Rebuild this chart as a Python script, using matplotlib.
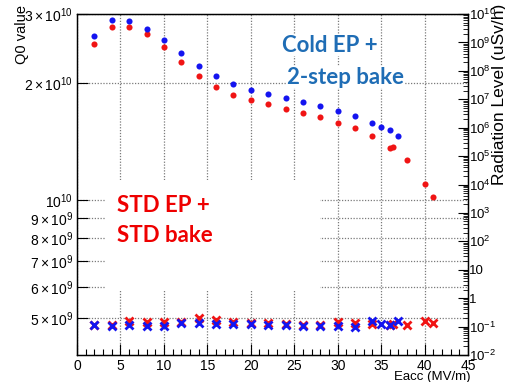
import numpy as np
import matplotlib
matplotlib.use("Agg")
import matplotlib.pyplot as plt
from matplotlib.patches import Rectangle
from matplotlib.ticker import FixedLocator, NullLocator, LogLocator, MultipleLocator, FuncFormatter

plt.rcParams["font.family"] = ["Liberation Sans", "DejaVu Sans"]
plt.rcParams["mathtext.fontset"] = "custom"
plt.rcParams["mathtext.rm"] = "Liberation Sans"
plt.rcParams["mathtext.it"] = "Liberation Sans:italic"
plt.rcParams["mathtext.bf"] = "Liberation Sans:bold"

# ── Datos ────────────────────────────────────────────────────────────────────
# Cold EP + 2-step bake (azul)
eacc_cold = [2, 4, 6, 8, 10, 12, 14, 16, 18, 20, 22, 24, 26, 28, 30, 32, 34, 35, 36, 37]
q0_cold = [2.63e10, 2.90e10, 2.88e10, 2.74e10, 2.57e10, 2.39e10, 2.21e10, 2.08e10, 1.99e10, 1.92e10,
           1.87e10, 1.83e10, 1.79e10, 1.74e10, 1.69e10, 1.64e10, 1.58e10, 1.54e10, 1.51e10, 1.46e10]
rad_cold = [0.114, 0.105, 0.114, 0.105, 0.105, 0.134, 0.134, 0.123, 0.123, 0.123,
            0.114, 0.114, 0.105, 0.105, 0.105, 0.097, 0.158, 0.123, 0.114, 0.158]

# STD EP + STD bake (rojo)
eacc_std = [2, 4, 6, 8, 10, 12, 14, 16, 18, 20, 22, 24, 26, 28, 30, 32, 34, 36, 36.4, 38, 40, 41]
q0_std = [2.51e10, 2.78e10, 2.78e10, 2.67e10, 2.47e10, 2.26e10, 2.08e10, 1.95e10, 1.86e10, 1.81e10,
          1.76e10, 1.71e10, 1.67e10, 1.63e10, 1.58e10, 1.53e10, 1.46e10, 1.36e10, 1.37e10, 1.27e10,
          1.10e10, 1.02e10]
rad_std = [0.11, 0.11, 0.158, 0.145, 0.145, 0.145, 0.201, 0.172, 0.145, 0.134,
           0.134, 0.12, 0.11, 0.11, 0.145, 0.134, 0.123, 0.114, 0.123, 0.114,
           0.158, 0.134]

q0_ticks = [5e9, 6e9, 7e9, 8e9, 9e9, 1e10, 2e10, 3e10]
q0_labels = [r"$5\times10^{9}$", r"$6\times10^{9}$", r"$7\times10^{9}$", r"$8\times10^{9}$",
             r"$9\times10^{9}$", r"$10^{10}$", r"$2\times10^{10}$", r"$3\times10^{10}$"]

AZUL = "#1414f0"
ROJO = "#f01414"
AZUL_TXT = "#1f6db5"
ROJO_TXT = "#ee0000"
GRID_KW = dict(color="#7a7a7a", linestyle=(0, (1, 1.3)), linewidth=0.9)

fig = plt.figure(figsize=(5.06, 3.82), dpi=100)
ax = fig.add_axes([77 / 506, 1 - 355 / 382, (468 - 77) / 506, (355 - 14) / 382])
ax2 = ax.twinx()

# ── Eje izquierdo: Q0 ────────────────────────────────────────────────────────
ax.set_yscale("log")
ax.set_xlim(0, 45)
ax.set_ylim(4.02e9, 3e10)
ax.yaxis.set_major_locator(FixedLocator(q0_ticks))
ax.yaxis.set_minor_locator(NullLocator())
ax.set_yticklabels(q0_labels)
ax.xaxis.set_major_locator(MultipleLocator(5))
ax.xaxis.set_minor_locator(MultipleLocator(1))
ax.set_axisbelow(True)
ax.grid(True, which="major", **GRID_KW)

ax.tick_params(axis="both", which="major", direction="in", length=8, width=0.8,
               labelsize=10, top=False, right=False)
ax.tick_params(axis="x", which="minor", direction="in", length=4, width=0.8, top=False)
ax.tick_params(axis="y", pad=3)
ax.tick_params(axis="x", pad=3)
for s in ax.spines.values():
    s.set_linewidth(0.9)

# caja blanca que tapa la rejilla bajo el texto STD
ax.add_patch(Rectangle((0.072, 0.19), 0.55, 0.323, transform=ax.transAxes,
                       facecolor="white", edgecolor="none", zorder=1))

ax.plot(eacc_std, q0_std, "o", color=ROJO, ms=4.4, mec="none", zorder=3)
ax.plot(eacc_cold, q0_cold, "o", color=AZUL, ms=4.4, mec="none", zorder=3)

# ── Eje derecho: radiación ───────────────────────────────────────────────────
ax2.set_yscale("log")
ax2.set_ylim(1e-2, 1e10)
ax2.yaxis.set_major_locator(LogLocator(base=10, numticks=30))
ax2.yaxis.set_minor_locator(LogLocator(base=10, subs=np.arange(2, 10), numticks=200))


def fmt_rad(v, pos):
    e = int(round(np.log10(v)))
    if e == 0:
        return "1"
    if e == 1:
        return "10"
    return r"$10^{%d}$" % e


ax2.yaxis.set_major_formatter(FuncFormatter(fmt_rad))
ax2.tick_params(axis="y", which="major", direction="in", length=7, width=0.8, labelsize=9.5, pad=0.5)
ax2.tick_params(axis="y", which="minor", direction="in", length=3.5, width=0.6)
for s in ax2.spines.values():
    s.set_linewidth(0.9)

ax2.plot(eacc_std, rad_std, "x", color=ROJO, ms=5.5, mew=2.0, zorder=3)
ax2.plot(eacc_cold, rad_cold, "x", color=AZUL, ms=5.5, mew=2.0, zorder=3)

# ── Títulos de ejes (estilo ROOT) ────────────────────────────────────────────
fig.text(22 / 506, 1 - 5 / 382, "Q0 value", rotation=90, ha="center", va="top", fontsize=10.5)
fig.text(500 / 506, 1 - 4 / 382, "Radiation Level (uSv/h)", rotation=90, ha="center", va="top",
         fontsize=12.5)
fig.text(471 / 506, 1 - 377 / 382, "Eacc (MV/m)", ha="right", va="center", fontsize=9.5)

# ── Anotaciones ──────────────────────────────────────────────────────────────
caja = dict(facecolor="white", edgecolor="none", pad=0.5)
fig.text(282 / 506, 1 - 45 / 382, "Cold EP +", color=AZUL_TXT, fontsize=16, fontweight="bold",
         family="Lato", ha="left", va="center", bbox=caja, zorder=5)
fig.text(287 / 506, 1 - 77 / 382, "2-step bake", color=AZUL_TXT, fontsize=16, fontweight="bold",
         family="Lato", ha="left", va="center", bbox=caja, zorder=5)
fig.text(117 / 506, 1 - 205 / 382, "STD EP +", color=ROJO_TXT, fontsize=16, fontweight="bold",
         family="Lato", ha="left", va="center", zorder=5)
fig.text(117 / 506, 1 - 235 / 382, "STD bake", color=ROJO_TXT, fontsize=16, fontweight="bold",
         family="Lato", ha="left", va="center", zorder=5)

fig.savefig("out.png", dpi=100)
